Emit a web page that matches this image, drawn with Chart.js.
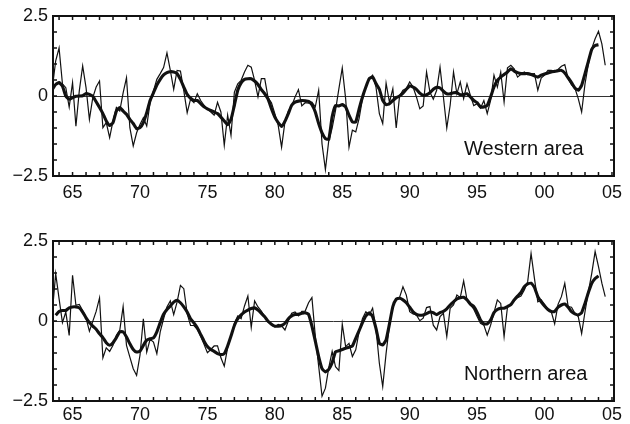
<!DOCTYPE html>
<html>
<head>
<meta charset="utf-8">
<script src="https://cdn.jsdelivr.net/npm/chart.js@4/dist/chart.umd.min.js"></script>
<style>
  html, body { margin: 0; padding: 0; background: #fff; }
  #wrap { position: relative; width: 630px; height: 424px; background: #fff; }
  canvas { position: absolute; left: 0; }
  #c1 { top: 0; }
  #c2 { top: 225px; }
</style>
</head>
<body>
<div id="wrap">
  <canvas id="c1" width="630" height="200"></canvas>
  <canvas id="c2" width="630" height="200"></canvas>
</div>
<script>
// ---- data (quarterly, first quarter 1963.5) ----
const startYear = 1963.5;
const yearTicks = [1965, 1970, 1975, 1980, 1985, 1990, 1995, 2000, 2005];
const valueTicks = [-2.5, 0, 2.5];

const westRaw = [
  0.25, 1.1, 1.5, 0.38, 0.26, -0.35, 0.42, -0.94, 0.16, 0.94,
  0.26, -0.73, -0.05, 0.28, 0.47, -0.99, -0.83, -1.3, -0.78, -0.36,
  -0.47, 0.1, 0.57, -0.99, -1.56, -1.15, -0.89, -0.68, -0.94, -0.21,
  0.16, 0.52, 0.7, 0.89, 1.35, 0.8, 0.21, 0.8, 0.78, 0.16,
  -0.52, -0.1, -0.21, 0.07, -0.14, -0.29, -0.4, -0.5, -0.6, -0.2,
  -0.5, -1.54, -0.6, -1.23, 0.12, 0.38, 0.49, 0.75, 0.96, 0.9,
  0.49, -0.03, 0.54, 0.54, -0.06, -0.21, -0.55, -0.92, -1.6, -0.81,
  -0.48, -0.31, -0.03, 0.2, -0.31, -0.21, -0.22, -0.19, -0.34, 0.18,
  -1.5, -2.3, -1.39, -1.0, -0.45, 0.23, 0.88, -0.08, -1.6, -1.07,
  -1.12, -0.7, -0.08, 0.28, 0.54, 0.65, 0.28, -0.55, -0.86, 0.4,
  -0.2, 0.23, -1.0, 0.0, 0.18, 0.23, 0.44, 0.28, -0.03, -0.4,
  -0.31, 0.75, 0.12, -0.1, 0.18, 0.9, -0.03, -1.0, -0.29, 0.75,
  0.07, 0.44, -0.08, 0.38, 0.02, -0.3, -0.24, -0.38, -0.14, -0.55,
  -0.14, 0.65, 0.28, 0.75, -0.19, 0.88, 0.96, 0.85, 0.59, 0.68,
  0.75, 0.67, 0.69, 0.7, 0.18, 0.56, 0.65, 0.8, 0.8, 0.77,
  0.83, 0.93, 0.98, 0.54, 0.35, 0.25, -0.08, -0.5, 0.38, 1.0,
  1.48, 1.79, 2.02, 1.63, 0.96
];
const westSmooth = [
  0.21, 0.36, 0.42, 0.31, 0.0, -0.1, -0.05, -0.01, 0, 0.01,
  0.08, 0.05, -0.01, -0.18, -0.36, -0.55, -0.78, -0.92, -0.83, -0.47,
  -0.36, -0.47, -0.57, -0.73, -0.86, -1.02, -0.99, -0.83, -0.52, -0.14,
  0.1, 0.34, 0.52, 0.66, 0.73, 0.76, 0.75, 0.7, 0.52, 0.28,
  0.05, -0.07, -0.14, -0.14, -0.24, -0.34, -0.4, -0.45, -0.5, -0.55,
  -0.66, -0.78, -0.9, -0.73, -0.29, 0.18, 0.41, 0.52, 0.54, 0.54,
  0.47, 0.36, 0.2, 0.07, -0.1, -0.4, -0.66, -0.83, -0.95, -0.79,
  -0.55, -0.29, -0.19, -0.16, -0.14, -0.15, -0.17, -0.27, -0.5, -0.86,
  -1.15, -1.33, -1.35, -0.65, -0.3, -0.31, -0.27, -0.34, -0.6, -0.81,
  -0.81, -0.4, -0.03, 0.28, 0.54, 0.59, 0.39, 0.21, -0.14, -0.27,
  -0.24, -0.14, -0.05, 0, 0.09, 0.21, 0.31, 0.28, 0.21, 0.09,
  0.02, 0.04, 0.1, 0.21, 0.27, 0.25, 0.15, 0.07, 0.07, 0.1,
  0.1, 0.04, 0.05, 0.07, -0.03, -0.14, -0.21, -0.34, -0.34, -0.29,
  -0.03, 0.28, 0.49, 0.59, 0.67, 0.75, 0.85, 0.78, 0.73, 0.7,
  0.7, 0.7, 0.67, 0.63, 0.59, 0.65, 0.69, 0.72, 0.75, 0.77,
  0.79, 0.8, 0.72, 0.57, 0.42, 0.25, 0.18, 0.33, 0.7, 1.08,
  1.46, 1.58, 1.6, null, null
];
const northRaw = [
  0.28, 1.48, 0.7, -0.05, 0.28, -0.45, 1.43, 0.49, 0.52, 0.33,
  0.09, -0.32, -0.01, 0.3, 0.72, -1.15, -0.84, -0.95, -0.76, -0.45,
  -0.29, 0.45, -0.76, -1.13, -1.49, -1.7, -1.07, 0.07, -0.97, -0.57,
  -0.66, -1.02, -0.34, 0.07, 0.44, 0.63, 0.2, 0.59, 1.11, 1.01,
  0.23, -0.14, -0.14, -0.26, -0.47, -0.73, -0.99, -0.89, -0.78, -0.78,
  -1.15, -1.41, -0.83, -0.47, -0.07, 0.16, 0.07, 0.47, 0.78, -0.2,
  0.63, 0.44, 0.31, 0.13, -0.03, -0.09, -0.19, -0.11, -0.15, -0.28,
  0, 0.24, 0.28, 0.16, 0.3, 0.31, 0.57, 0.73, -0.47, -1.41,
  -2.35, -2.1, -1.46, -0.95, -1.43, -1.55, -0.1, -0.8, -0.7, -1.11,
  -0.9, -0.33, 0.08, 0.29, 0.19, 0.4, -0.23, -1.32, -2.05, -1.01,
  -0.13, 0.45, 0.69, 0.74, 1.07, 0.81, 0.29, 0.22, 0.19, 0.01,
  0.09, 0.42, 0.45, -0.13, -0.28, 0.14, 0.24, -0.48, 0.4, 0.5,
  0.81, 0.73, 1.25, 0.66, 0.5, 0.37, 0.14, -0.07, -0.13, -0.44,
  -0.13, 0.26, 0.66, 0.55, -0.49, 0.43, 0.52, 0.63, 0.73, 0.78,
  0.97, 1.23, 2.11, 1.33, 0.6, 0.66, 0.52, 0.36, 0.29, -0.09,
  0.52, 0.76, 1.18, 0.45, 0.43, 0.24, 0.14, -0.39, 0.29, 0.92,
  1.49, 2.17, 1.7, 1.18, 0.76
];
const northSmooth = [
  null, 0.18, 0.3, 0.33, 0.33, 0.41, 0.44, 0.44, 0.41, 0.28,
  0.1, -0.05, -0.16, -0.26, -0.4, -0.52, -0.68, -0.76, -0.68, -0.52,
  -0.34, -0.34, -0.5, -0.71, -0.89, -0.97, -0.94, -0.76, -0.6, -0.55,
  -0.53, -0.34, -0.05, 0.21, 0.36, 0.47, 0.59, 0.65, 0.57, 0.44,
  0.28, 0.07, -0.06, -0.21, -0.42, -0.63, -0.8, -0.89, -0.95, -1.02,
  -1.05, -1.02, -0.78, -0.47, -0.14, 0.07, 0.19, 0.28, 0.34, 0.39,
  0.41, 0.34, 0.24, 0.13, -0.01, -0.1, -0.16, -0.16, -0.14, -0.07,
  0.07, 0.16, 0.2, 0.21, 0.24, 0.26, 0.21, -0.16, -0.63, -1.11,
  -1.49, -1.59, -1.51, -1.3, -0.96, -0.93, -0.89, -0.85, -0.82, -0.78,
  -0.54, -0.3, -0.05, 0.16, 0.26, 0.14, -0.23, -0.7, -0.75, -0.59,
  -0.09, 0.45, 0.68, 0.71, 0.66, 0.57, 0.43, 0.29, 0.21, 0.18,
  0.19, 0.23, 0.28, 0.26, 0.2, 0.26, 0.3, 0.38, 0.5, 0.6,
  0.69, 0.73, 0.74, 0.66, 0.53, 0.45, 0.27, 0.03, -0.09, -0.09,
  0.03, 0.26, 0.36, 0.4, 0.4, 0.45, 0.51, 0.66, 0.78, 0.89,
  1.07, 1.16, 1.18, 1.05, 0.76, 0.6, 0.47, 0.36, 0.3, 0.3,
  0.43, 0.5, 0.53, 0.43, 0.29, 0.22, 0.19, 0.26, 0.55, 0.89,
  1.18, 1.33, 1.41, null, null
];

// time axis categories: one per quarter
const quarters = westRaw.map((_, i) => startYear + i / 4);

const FONT = '"Liberation Sans", Arial, Helvetica, sans-serif';
const INK = '#111';

const framePlugin = {
  id: 'frame',
  beforeDatasetsDraw(chart) {
    const { ctx, chartArea: a, scales: { y } } = chart;
    ctx.save();
    ctx.strokeStyle = '#333';
    ctx.lineWidth = 1;
    const y0 = Math.round(y.getPixelForValue(0)) + 0.5;
    ctx.beginPath();
    ctx.moveTo(a.left, y0);
    ctx.lineTo(a.right, y0);
    ctx.stroke();
    ctx.restore();
  },
  afterDatasetsDraw(chart, args, opts) {
    const { ctx, chartArea: a, scales: { x, y } } = chart;
    ctx.save();
    ctx.strokeStyle = INK;
    ctx.lineWidth = 1.5;
    ctx.beginPath();
    for (let yr = Math.ceil(x.min); yr <= x.max; yr++) {
      const px = x.getPixelForValue(yr);
      ctx.moveTo(px, a.top); ctx.lineTo(px, a.top + 4);
      ctx.moveTo(px, a.bottom); ctx.lineTo(px, a.bottom - 4);
    }
    for (let k = -5; k <= 5; k++) {
      const py = y.getPixelForValue(k * 0.5);
      ctx.moveTo(a.left, py); ctx.lineTo(a.left + 4, py);
      ctx.moveTo(a.right, py); ctx.lineTo(a.right - 4, py);
    }
    ctx.stroke();
    ctx.lineWidth = 2;
    ctx.strokeRect(a.left, a.top, a.right - a.left, a.bottom - a.top);
    ctx.font = '20px ' + FONT;
    ctx.fillStyle = INK;
    ctx.textBaseline = 'alphabetic';
    ctx.fillText(opts.text, a.left + 411, a.bottom - 21);
    ctx.restore();
  }
};

function makeChart(id, raw, smooth, title, xPad) {
  return new Chart(document.getElementById(id), {
    type: 'line',
    data: {
      datasets: [
        {
          data: quarters.map((q, i) => ({ x: q, y: raw[i] })),
          borderColor: INK, borderWidth: 1.2, pointRadius: 0, tension: 0
        },
        {
          data: quarters.map((q, i) => ({ x: q, y: smooth[i] })),
          borderColor: INK, borderWidth: 3.1, pointRadius: 0, tension: 0.15,
          spanGaps: false
        }
      ]
    },
    options: {
      responsive: false,
      animation: false,
      devicePixelRatio: 1,
      layout: { padding: { left: 0, right: 16, top: 16, bottom: 0 } },
      plugins: {
        legend: { display: false },
        tooltip: { enabled: false },
        frame: { text: title }
      },
      scales: {
        x: {
          type: 'linear',
          min: 1963.55,
          max: 2005.15,
          grid: { display: false, drawTicks: false },
          border: { display: false },
          afterBuildTicks: s => { s.ticks = yearTicks.map(v => ({ value: v })); },
          afterFit: s => { s.height = 24; },
          ticks: {
            padding: xPad,
            maxRotation: 0,
            autoSkip: false,
            color: INK,
            font: { family: FONT, size: 18 },
            callback: v => String(v % 100).padStart(2, '0')
          }
        },
        y: {
          min: -2.5,
          max: 2.5,
          grid: { display: false, drawTicks: false },
          border: { display: false },
          afterBuildTicks: s => { s.ticks = valueTicks.map(v => ({ value: v })); },
          afterFit: s => { s.width = 53; },
          ticks: {
            padding: 5,
            color: INK,
            font: { family: FONT, size: 18 },
            callback: v => v < 0 ? '\u2212' + Math.abs(v) : String(v)
          }
        }
      }
    },
    plugins: [framePlugin]
  });
}

makeChart('c1', westRaw, westSmooth, 'Western area', 6);
makeChart('c2', northRaw, northSmooth, 'Northern area', 3);
</script>
</body>
</html>
